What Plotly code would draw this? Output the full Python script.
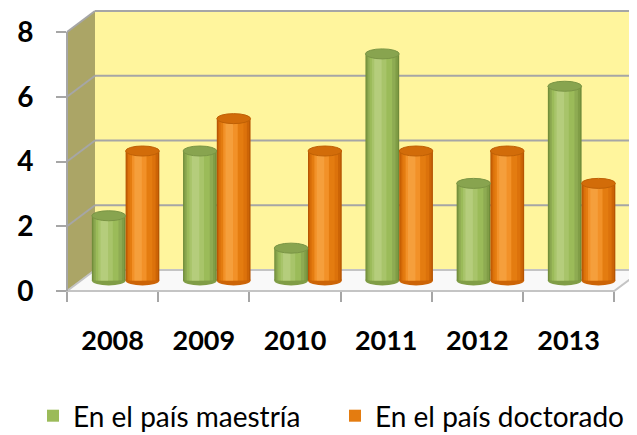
import plotly.graph_objects as go

# ---------------- data ----------------
years = ["2008", "2009", "2010", "2011", "2012", "2013"]
maestria = [2, 4, 1, 7, 3, 6]
doctorado = [4, 5, 4, 4, 4, 3]
y_ticks = [0, 2, 4, 6, 8]
series_names = ["En el país maestría", "En el país doctorado"]

# ---------------- geometry / style ----------------
WIN_W, WIN_H = 637, 435
PAGE_OFF = 8                       # default body margin of the html page
W, H = WIN_W - PAGE_OFF, WIN_H - PAGE_OFF
# plot area in window pixels
P_LEFT, P_TOP, P_RIGHT, P_BOTTOM = 67, 11, 637, 291
ML, MT = P_LEFT - PAGE_OFF, P_TOP - PAGE_OFF
MR, MB = W - (P_RIGHT - PAGE_OFF), H - (P_BOTTOM - PAGE_OFF)
PW, PH = P_RIGHT - P_LEFT, P_BOTTOM - P_TOP
CAT_PX = 91.2          # width of one category on the front plane (px)
DEPTH_X, DEPTH_Y = 28, 21
Y_TOP = 8
UNIT_PX = (PH - DEPTH_Y) / Y_TOP   # px per value unit
D = DEPTH_Y / UNIT_PX              # depth offset in value units
MID_SHIFT = 13 / CAT_PX            # middle plane x shift in category units
RY = 5 / UNIT_PX                   # ellipse half height (value units)
BAR_W = 0.37
OFFSETS = [-0.37, 0.0]

FONT = "Lato"
GRID = "#A6A6A6"

palettes = [
    ["#6F8B39", "#809D46", "#8EAB52", "#9BBB59", "#A8C46A", "#B5CD7C"],
    ["#B65503", "#CC6406", "#DC720B", "#E98111", "#F29128", "#F59F3C"],
]
top_colors = ["#88A44F", "#D26C09"]
top_lines = ["#7A9545", "#BF6005"]
legend_colors = ["#9BBB59", "#E47C10"]
layers = [(0.0, 1.0), (0.03, 0.96), (0.07, 0.89), (0.12, 0.79), (0.19, 0.62), (0.26, 0.48)]
LEGEND_LAYER = 3
legend_ids = ["legend", "legend2"]
legend_x_win = [33, 335]
legend_y_win = 416


def px(x):  # window x -> paper
    return (x - P_LEFT) / PW


def py(y):  # window y -> paper
    return (P_BOTTOM - y) / PH


def fy(v):  # front plane window y
    return P_BOTTOM - v * UNIT_PX


def by(v):  # back plane window y
    return fy(v) - DEPTH_Y


def path(points):
    s = "M" + " L".join(f"{px(x):.5f},{py(y):.5f}" for x, y in points)
    return s + " Z"


xl_f, xl_b = P_LEFT, P_LEFT + DEPTH_X
xr_f = P_LEFT + len(years) * CAT_PX
xr_b = xr_f + DEPTH_X

shapes = []
# back wall
shapes.append(dict(type="rect", xref="paper", yref="paper", x0=px(xl_b), x1=px(WIN_W + 10),
                   y0=py(by(0)), y1=py(by(Y_TOP)), fillcolor="#FFF59D", line=dict(width=0), layer="below"))
# side wall
shapes.append(dict(type="path", xref="paper", yref="paper",
                   path=path([(xl_f, fy(Y_TOP)), (xl_b, by(Y_TOP)), (xl_b, by(0)), (xl_f, fy(0))]),
                   fillcolor="#ABA566", line=dict(width=0), layer="below"))
# floor
shapes.append(dict(type="path", xref="paper", yref="paper",
                   path=path([(xl_f, fy(0)), (xr_f, fy(0)), (xr_b, by(0)), (xl_b, by(0))]),
                   fillcolor="#F9F9F9", line=dict(width=2, color="#C4C4C4"), layer="below"))
# grid lines on back and side walls
for v in y_ticks[1:]:
    shapes.append(dict(type="line", xref="paper", yref="paper", x0=px(xl_b), x1=px(WIN_W + 10),
                       y0=py(by(v)), y1=py(by(v)), line=dict(width=2, color=GRID), layer="below"))
    shapes.append(dict(type="line", xref="paper", yref="paper", x0=px(xl_f), x1=px(xl_b),
                       y0=py(fy(v)), y1=py(by(v)), line=dict(width=2, color=GRID), layer="below"))
# left edge of side wall
shapes.append(dict(type="line", xref="paper", yref="paper", x0=px(xl_f), x1=px(xl_f),
                   y0=py(fy(0)), y1=py(fy(Y_TOP)), line=dict(width=2, color=GRID), layer="below"))

fig = go.Figure()
x_idx = list(range(len(years)))
all_series = [maestria, doctorado]

# bottom ellipses of cylinders
for s, vals in enumerate(all_series):
    for i, v in zip(x_idx, vals):
        shapes.append(dict(type="circle", xref="x", yref="y",
                           x0=i + OFFSETS[s], x1=i + OFFSETS[s] + BAR_W,
                           y0=-RY, y1=RY, fillcolor=palettes[s][1], line=dict(width=0), layer="below"))

# cylinder bodies: layered bars for a shaded look
for s, vals in enumerate(all_series):
    for j, (a, b) in enumerate(layers):
        fig.add_trace(go.Bar(
            x=x_idx, y=vals, base=0,
            width=BAR_W * (b - a), offset=OFFSETS[s] + BAR_W * a,
            marker=dict(color=palettes[s][j] if j != LEGEND_LAYER else legend_colors[s],
                        line=dict(width=0)),
            name=series_names[s], showlegend=(j == LEGEND_LAYER),
            legend=legend_ids[s], hoverinfo="skip",
        ))

# top ellipses
for s, vals in enumerate(all_series):
    for i, v in zip(x_idx, vals):
        shapes.append(dict(type="circle", xref="x", yref="y",
                           x0=i + OFFSETS[s], x1=i + OFFSETS[s] + BAR_W,
                           y0=v - RY, y1=v + RY, fillcolor=top_colors[s],
                           line=dict(width=1, color=top_lines[s]), layer="above"))

legend_style = dict(orientation="h", xref="container", yref="container",
                    xanchor="left", y=1 - (legend_y_win - PAGE_OFF) / H, yanchor="middle",
                    font=dict(family=FONT, size=28, color="black"),
                    bgcolor="rgba(0,0,0,0)", borderwidth=0)

# axis ticks sit on the front plane: shift them by the half depth
fig.update_layout(
    width=W, height=H,
    margin=dict(l=ML, r=MR, t=MT, b=MB, pad=0, autoexpand=False),
    paper_bgcolor="white", plot_bgcolor="rgba(0,0,0,0)",
    barmode="overlay",
    shapes=shapes,
    font=dict(family=FONT, color="black"),
    xaxis=dict(range=[-0.5 - MID_SHIFT, -0.5 - MID_SHIFT + PW / CAT_PX],
               tickmode="array",
               tickvals=[i - MID_SHIFT for i in x_idx], ticktext=years, ticks="",
               tickfont=dict(family=FONT, size=27, color="black", weight="bold"),
               ticklabelstandoff=31,
               showgrid=False, zeroline=False, showline=False, fixedrange=True,
               minor=dict(tickmode="array",
                          tickvals=[i - 0.5 - MID_SHIFT for i in range(len(years) + 1)],
                          ticks="outside", ticklen=10, tickwidth=2, tickcolor=GRID, showgrid=False)),
    yaxis=dict(range=[-D / 2, Y_TOP + D / 2], tickmode="array",
               tickvals=[v - D / 2 for v in y_ticks], ticktext=[str(v) for v in y_ticks],
               ticks="outside", ticklen=10, tickwidth=2, tickcolor=GRID,
               tickfont=dict(family=FONT, size=28, color="black", weight="bold"),
               ticklabelstandoff=17,
               showgrid=False, zeroline=False, showline=False, fixedrange=True),
    legend=dict(legend_style, x=(legend_x_win[0] - PAGE_OFF) / W),
    legend2=dict(legend_style, x=(legend_x_win[1] - PAGE_OFF) / W),
    showlegend=True,
)

fig.write_html("out.html")
